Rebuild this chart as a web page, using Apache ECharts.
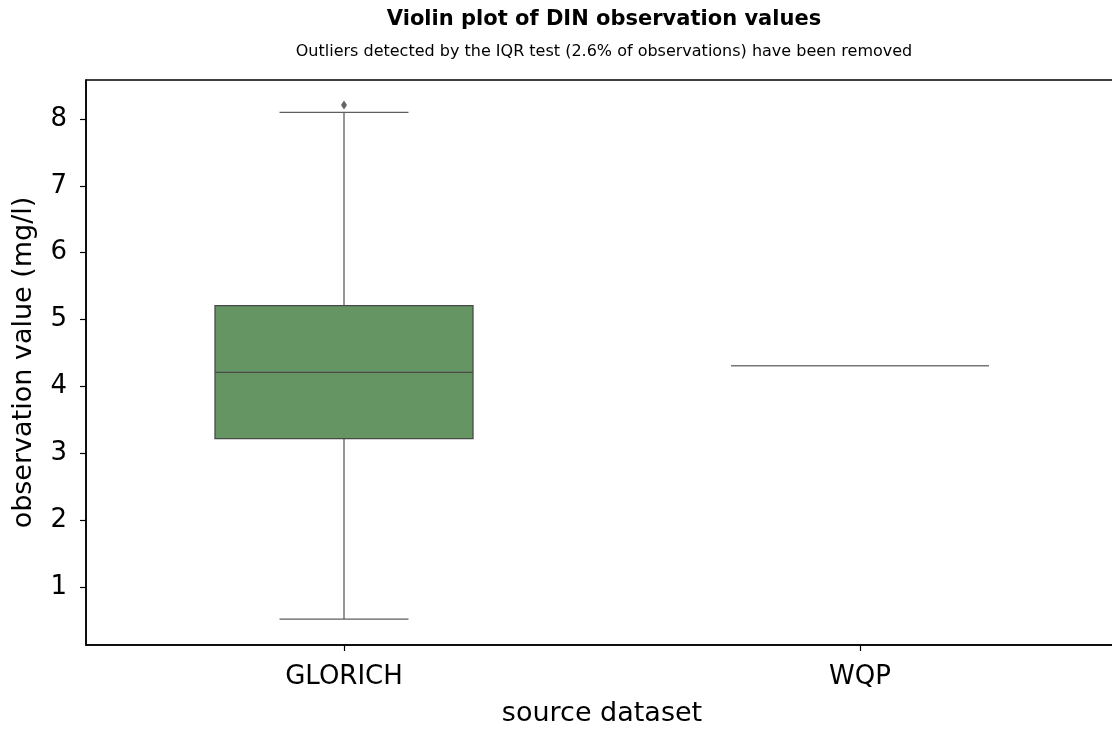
<!DOCTYPE html>
<html>
<head>
<meta charset="utf-8">
<script src="https://cdn.jsdelivr.net/npm/echarts@6/dist/echarts.min.js"></script>
<style>html,body{margin:0;padding:0;background:#fff;overflow:hidden;}#chart{width:1112px;height:730px;}</style>
</head>
<body>
<div id="chart"></div>
<script>
var categories = ['GLORICH', 'WQP'];
// [min whisker, Q1, median, Q3, max whisker]
var glorichStats = [0.52, 3.22, 4.21, 5.21, 8.10];
var wqpStats = [4.31, 4.31, 4.31, 4.31, 4.31];
var outliers = [[0, 8.21]];
var yTicks = [1, 2, 3, 4, 5, 6, 7, 8];

var boxData = [
  [0].concat(glorichStats),
  [1].concat(wqpStats)
];

var FONT = 'DejaVu Sans';
var chart = echarts.init(document.getElementById('chart'), null, {renderer: 'canvas'});

function renderBox(params, api) {
  var idx = api.value(0);
  var vmin = api.value(1), q1 = api.value(2), med = api.value(3), q3 = api.value(4), vmax = api.value(5);
  var band = api.size([1, 0])[0];
  var boxW = band * 0.5;
  var capW = boxW * 0.5;
  var pMin = api.coord([idx, vmin]);
  var pQ1 = api.coord([idx, q1]);
  var pMed = api.coord([idx, med]);
  var pQ3 = api.coord([idx, q3]);
  var pMax = api.coord([idx, vmax]);
  var cx = pMed[0];
  var lineStyle = {stroke: '#5e5e5e', lineWidth: 1.3};
  var children = [];
  if (vmax > q3) {
    children.push({type: 'line', shape: {x1: cx, y1: pQ3[1], x2: cx, y2: pMax[1]}, style: lineStyle});
    children.push({type: 'line', shape: {x1: cx - capW / 2, y1: pMax[1], x2: cx + capW / 2, y2: pMax[1]}, style: lineStyle});
  }
  if (vmin < q1) {
    children.push({type: 'line', shape: {x1: cx, y1: pQ1[1], x2: cx, y2: pMin[1]}, style: lineStyle});
    children.push({type: 'line', shape: {x1: cx - capW / 2, y1: pMin[1], x2: cx + capW / 2, y2: pMin[1]}, style: lineStyle});
  }
  if (q3 > q1) {
    children.push({type: 'rect', shape: {x: cx - boxW / 2, y: pQ3[1], width: boxW, height: pQ1[1] - pQ3[1]},
      style: {fill: '#659563', stroke: '#4a4a4a', lineWidth: 1.3}});
  }
  children.push({type: 'line', shape: {x1: cx - boxW / 2, y1: pMed[1], x2: cx + boxW / 2, y2: pMed[1]},
    style: {stroke: q3 > q1 ? '#4a4a4a' : '#777777', lineWidth: q3 > q1 ? 1.3 : 1.6}});
  return {type: 'group', children: children};
}

var option = {
  backgroundColor: '#ffffff',
  animation: false,
  title: [
    {text: 'Violin plot of DIN observation values', left: 599, top: 4, textAlign: 'center',
      textStyle: {fontFamily: FONT, fontSize: 21, fontWeight: 'bold', color: '#000'}},
    {text: 'Outliers detected by the IQR test (2.6% of observations) have been removed', left: 599, top: 39, textAlign: 'center',
      textStyle: {fontFamily: FONT, fontSize: 16, fontWeight: 'normal', color: '#000'}}
  ],
  grid: {left: 86, width: 1032, top: 80, height: 565, containLabel: false, outerBoundsMode: 'none',
    show: true, borderColor: '#000', borderWidth: 1.5, backgroundColor: 'transparent'},
  xAxis: {
    type: 'category',
    data: categories,
    boundaryGap: true,
    name: 'source dataset',
    nameLocation: 'middle',
    nameGap: 55,
    nameTextStyle: {fontFamily: FONT, fontSize: 27, color: '#000'},
    axisLine: {show: true, lineStyle: {color: '#000', width: 1.5}},
    axisTick: {show: true, alignWithLabel: true, length: 6, lineStyle: {color: '#000', width: 1.2}},
    axisLabel: {fontFamily: FONT, fontSize: 26, color: '#000', margin: 19},
    splitLine: {show: false}
  },
  yAxis: {
    type: 'value',
    min: 0.133,
    max: 8.583,
    name: 'observation value (mg/l)',
    nameLocation: 'middle',
    nameGap: 49,
    nameTextStyle: {fontFamily: FONT, fontSize: 27, color: '#000'},
    axisLine: {show: true, lineStyle: {color: '#000', width: 1.5}},
    axisTick: {show: true, length: 6, customValues: yTicks, lineStyle: {color: '#000', width: 1.2}},
    axisLabel: {fontFamily: FONT, fontSize: 26, color: '#000', margin: 19, customValues: yTicks},
    splitLine: {show: false}
  },
  series: [
    {
      type: 'custom',
      renderItem: renderBox,
      encode: {x: 0, y: [1, 2, 3, 4, 5]},
      data: boxData,
      z: 2
    },
    {
      type: 'scatter',
      data: outliers,
      symbol: 'diamond',
      symbolSize: [6, 9],
      itemStyle: {color: '#3d3d3d'},
      z: 3
    }
  ]
};
chart.setOption(option);
</script>
</body>
</html>
